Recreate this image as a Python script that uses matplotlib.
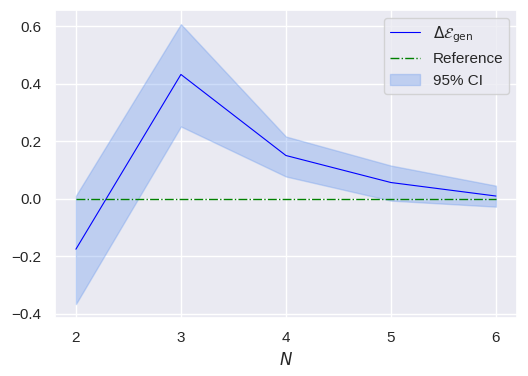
import matplotlib
matplotlib.use("Agg")
import matplotlib.pyplot as plt
import numpy as np
import seaborn as sns

N = [2, 3, 4, 5, 6]
delta_gen = [-0.176, 0.432, 0.150, 0.056, 0.009]
ci_low = [-0.367, 0.251, 0.077, -0.007, -0.028]
ci_high = [0.010, 0.607, 0.216, 0.115, 0.045]
reference = [0.0, 0.0, 0.0, 0.0, 0.0]

sns.set_theme()
plt.rcParams["font.family"] = ["Liberation Sans", "DejaVu Sans"]

fig, ax = plt.subplots(figsize=(5.28, 3.76), dpi=100)
fig.subplots_adjust(left=0.104, right=0.979, top=0.973, bottom=0.154)

ax.plot(N, delta_gen, color="blue", lw=0.8, label=r"$\Delta\mathcal{E}_{\rm gen}$")
ax.plot(N, reference, color="green", ls="-.", lw=1.0, label="Reference")
ax.fill_between(N, ci_low, ci_high, color="cornflowerblue", alpha=0.32, label="95% CI")

ax.set_xticks(N)
ax.set_xlabel("$N$")
ax.legend(loc="upper right")

fig.savefig("out.png", dpi=100)
